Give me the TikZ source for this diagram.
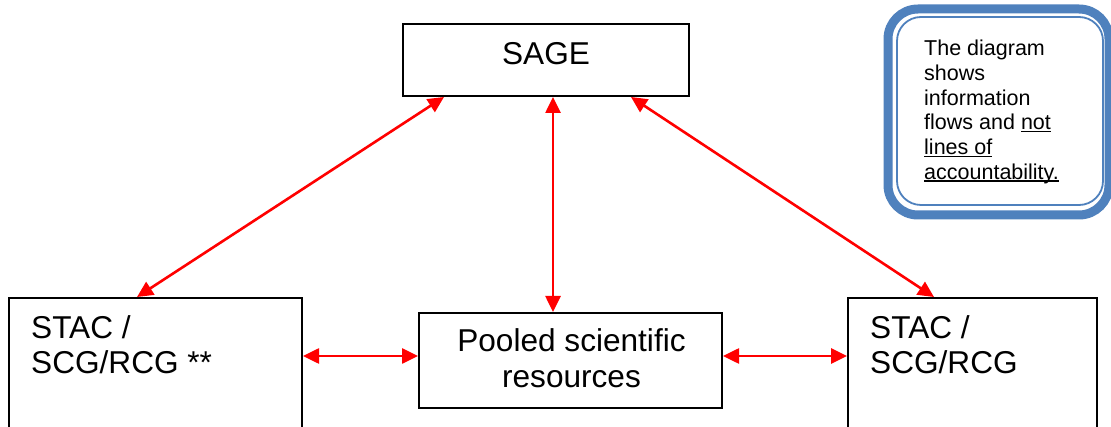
\documentclass[tikz,border=0pt]{standalone}
\usepackage{fontspec}
\setmainfont{Liberation Sans}
\usetikzlibrary{arrows.meta}
\definecolor{noteblue}{RGB}{79,129,189}
\newcommand\myul[1]{\setbox0\hbox{#1}\rlap{\rule[-2.6pt]{\wd0}{1.4pt}}\box0}
\tikzset{
  boxnode/.style={draw=black, line width=2pt, rectangle, inner sep=0pt, fill=white},
  bigtext/.style={inner sep=0pt, font=\fontsize{31.6}{35}\selectfont},
  notetext/.style={inner sep=0pt, font=\fontsize{21.5}{24.7}\selectfont},
  flow/.style={draw=red, line width=2.6pt, {Triangle[length=16pt,width=15pt]}-{Triangle[length=16pt,width=15pt]}}
}
\begin{document}
\begin{tikzpicture}[x=1pt,y=-1pt]
\useasboundingbox (0,0) rectangle (1111,427);
\clip (0,0) rectangle (1111,427);
\fill[white] (0,0) rectangle (1111,427);
% boxes
\node[boxnode, minimum width=286pt, minimum height=72pt] (sage) at (546,60) {};
\node[boxnode, minimum width=293pt, minimum height=162pt] (stacl) at (155.5,379) {};
\node[boxnode, minimum width=303pt, minimum height=95pt] (pool) at (570.5,360.5) {};
\node[boxnode, minimum width=249pt, minimum height=162pt] (stacr) at (972.5,379) {};
% texts
\node[bigtext, anchor=base] (sagetxt) at (546,65) {SAGE};
\node[bigtext, anchor=base west] (stacltxt) at (31,339) {\vtop{\hbox{STAC /}\hbox{SCG/RCG **}}};
\node[bigtext, anchor=base west] (stacrtxt) at (870,339) {\vtop{\hbox{STAC /}\hbox{SCG/RCG}}};
\node[bigtext, anchor=base] (pooltxt) at (571.5,352) {\vtop{\baselineskip=36pt\halign{\hfil#\hfil\cr Pooled scientific\cr resources\cr}}};
% connector anchors
\coordinate (pw) at ([yshift=4.5pt]pool.west);
\coordinate (pe) at ([yshift=4.5pt]pool.east);
% connectors
\draw[flow] ([xshift=42pt]sage.south west) -- ([xshift=129pt]stacl.north west);
\draw[flow] ([xshift=7pt]sage.south) -- ([xshift=-17.5pt]pool.north);
\draw[flow] ([xshift=229pt]sage.south west) -- ([xshift=87pt]stacr.north west);
\draw[flow] (stacl.east |- pw) -- (pw);
\draw[flow] (pe) -- (stacr.west |- pe);
% note
\draw[noteblue, line width=9pt, rounded corners=30pt, fill=white] (888,9) rectangle (1109,215);
\draw[noteblue, line width=1.8pt, rounded corners=24pt] (897,17) rectangle (1103,205);
\node[notetext, anchor=base west] (note) at (924,55.7) {\vtop{\hbox{The diagram}\hbox{shows}\hbox{information}\hbox{flows and \myul{not}}\hbox{\myul{lines of}}\hbox{\myul{accountability.}}}};
\end{tikzpicture}
\end{document}
